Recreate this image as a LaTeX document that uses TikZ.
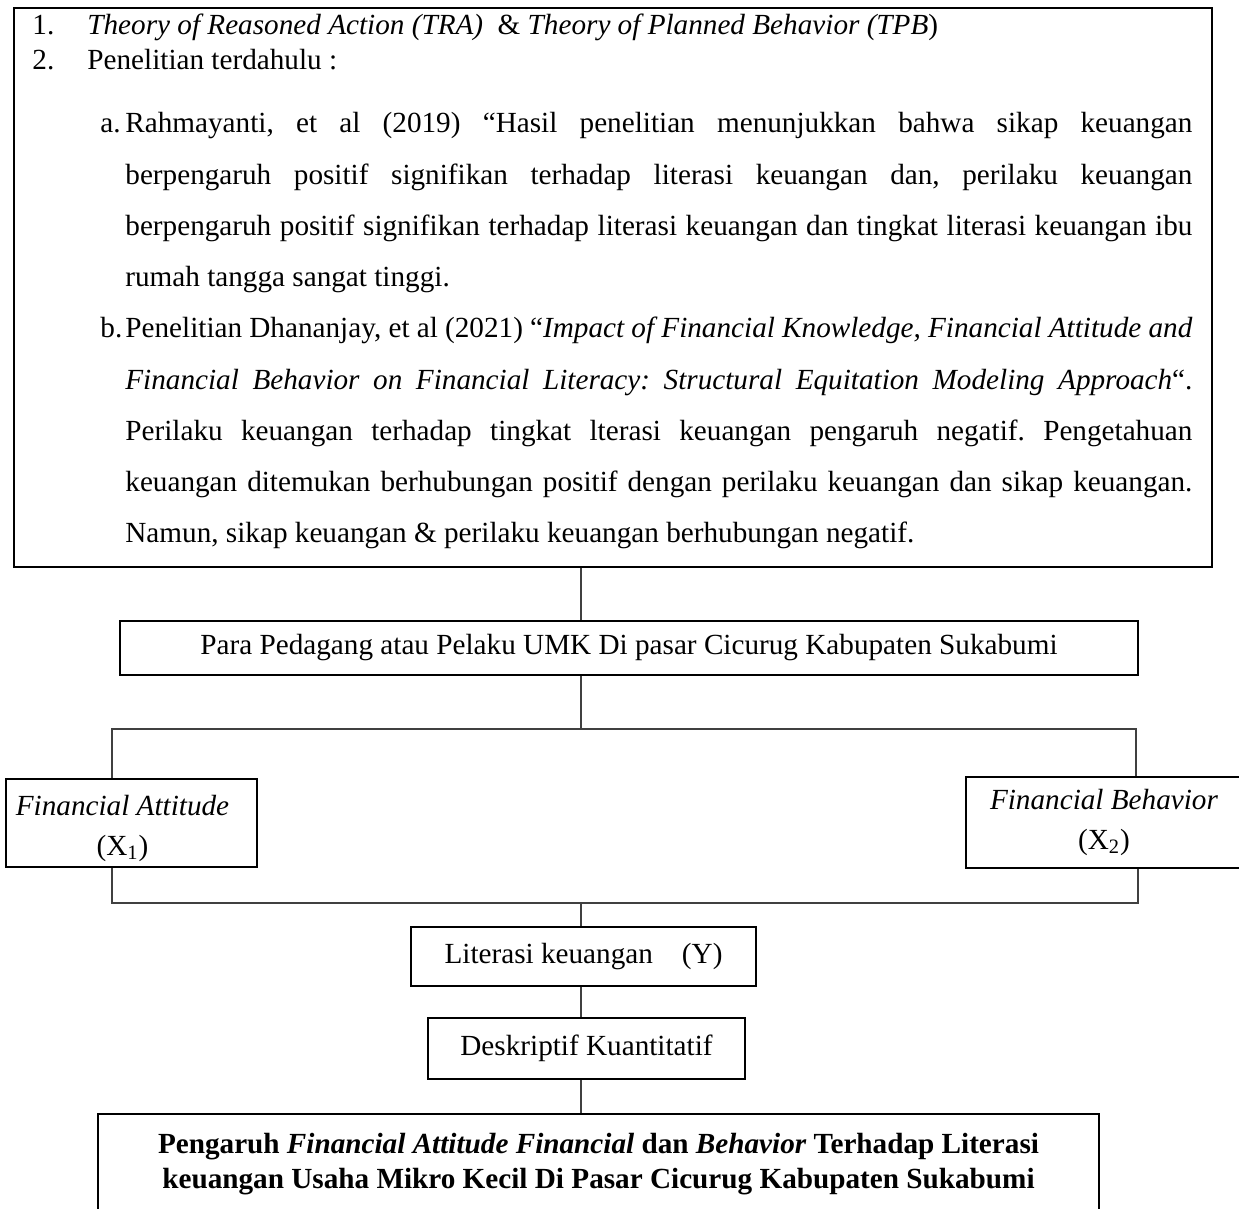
\documentclass[tikz,border=0pt]{standalone}
\usepackage{fontspec}
\setmainfont{Liberation Serif}
\frenchspacing
\begin{document}
\begin{tikzpicture}[x=0.5pt,y=-0.5pt,
  box/.style={draw=black, line width=1pt, inner sep=0pt},
  conn/.style={draw=black!75, line width=0.6pt},
  fs/.style={font=\fontsize{14.6}{20}\selectfont\frenchspacing},
  txt/.style={fs, inner sep=0pt, anchor=base west},
  btxt/.style={fs, inner sep=0pt, anchor=base},
  ctxt/.style={fs, align=center}]
\useasboundingbox (0,0) rectangle (1239,1209);

% top box
\node[box, minimum width=599pt, minimum height=279.5pt] (top) at (613,287.5) {};
\node[txt] (l1n) at (32,35) {1.};
\node[txt] (l1) at (87,35) {\textit{Theory of Reasoned Action (TRA)}\ \ \&\ \textit{Theory of Planned Behavior (TPB})};
\node[txt] (l2n) at (32,70) {2.};
\node[txt] (l2) at (87,70) {Penelitian terdahulu :};
\node[txt] (an) at (100,133) {a.};
\node[txt] (a1) at (125,133) {\makebox[533.5pt][s]{Rahmayanti, et al (2019) “Hasil penelitian menunjukkan bahwa sikap keuangan}};
\node[txt] (a2) at (125,184.25) {\makebox[533.5pt][s]{berpengaruh positif signifikan terhadap literasi keuangan dan, perilaku keuangan}};
\node[txt] (a3) at (125,235.5) {\makebox[533.5pt][s]{berpengaruh positif signifikan terhadap literasi keuangan dan tingkat literasi keuangan ibu}};
\node[txt] (a4) at (125,286.75) {rumah tangga sangat tinggi.};
\node[txt] (bn) at (100,338) {b.};
\node[txt] (b1) at (125,338) {\makebox[533.5pt][s]{Penelitian Dhananjay, et al (2021) “\textit{Impact of Financial Knowledge, Financial Attitude and}}};
\node[txt] (b2) at (125,389.25) {\makebox[533.5pt][s]{\textit{Financial Behavior on Financial Literacy: Structural Equitation Modeling Approach}“.}};
\node[txt] (b3) at (125,440.5) {\makebox[533.5pt][s]{Perilaku keuangan terhadap tingkat lterasi keuangan pengaruh negatif. Pengetahuan}};
\node[txt] (b4) at (125,491.75) {\makebox[533.5pt][s]{keuangan ditemukan berhubungan positif dengan perilaku keuangan dan sikap keuangan.}};
\node[txt] (b5) at (125,543) {Namun, sikap keuangan \& perilaku keuangan berhubungan negatif.};

% middle boxes
\node[box, ctxt, minimum width=509pt, minimum height=27pt] (para) at (629,648) {Para Pedagang atau Pelaku UMK Di pasar Cicurug Kabupaten Sukabumi};
\node[box, minimum width=125.5pt, minimum height=44pt] (fa) at (131.5,823) {};
\node[ctxt, inner sep=0pt] (fat) at (122.5,828) {\textit{Financial Attitude}\\(X\textsubscript{1})};
\node[box, ctxt, minimum width=138pt, minimum height=45.5pt] (fb) at (1104,822.5) {\textit{Financial Behavior}\\(X\textsubscript{2})};
\node[box, ctxt, minimum width=172.5pt, minimum height=29.5pt] (lit) at (583.5,956.5) {Literasi keuangan\hspace{14.5pt}(Y)};
\node[box, ctxt, minimum width=158.5pt, minimum height=30.5pt] (desk) at (586.5,1048.5) {Deskriptif Kuantitatif};

% bottom box
\node[box, minimum width=500.5pt, minimum height=73pt] (bot) at (598.5,1187) {};
\node[btxt] (bt1) at (598.5,1153) {\bfseries Pengaruh \textit{Financial Attitude Financial} dan \textit{Behavior} Terhadap Literasi};
\node[btxt] (bt2) at (598.5,1188) {\bfseries keuangan Usaha Mikro Kecil Di Pasar Cicurug Kabupaten Sukabumi};

% connectors
\coordinate (v) at (581,0);
\coordinate (bl) at (112,729);
\coordinate (br) at (1136,729);
\coordinate (cl) at (112,903);
\coordinate (cr) at (1138,903);
\draw[conn] (top.south -| v) -- (para.north -| v);
\draw[conn] (para.south -| v) -- (v |- bl);
\draw[conn] (fa.north -| bl) -- (bl) -- (br) -- (fb.north -| br);
\draw[conn] (fa.south -| cl) -- (cl) -- (cr) -- (fb.south -| cr);
\draw[conn] (v |- cl) -- (lit.north -| v);
\draw[conn] (lit.south -| v) -- (desk.north -| v);
\draw[conn] (desk.south -| v) -- (bot.north -| v);
\end{tikzpicture}
\end{document}
